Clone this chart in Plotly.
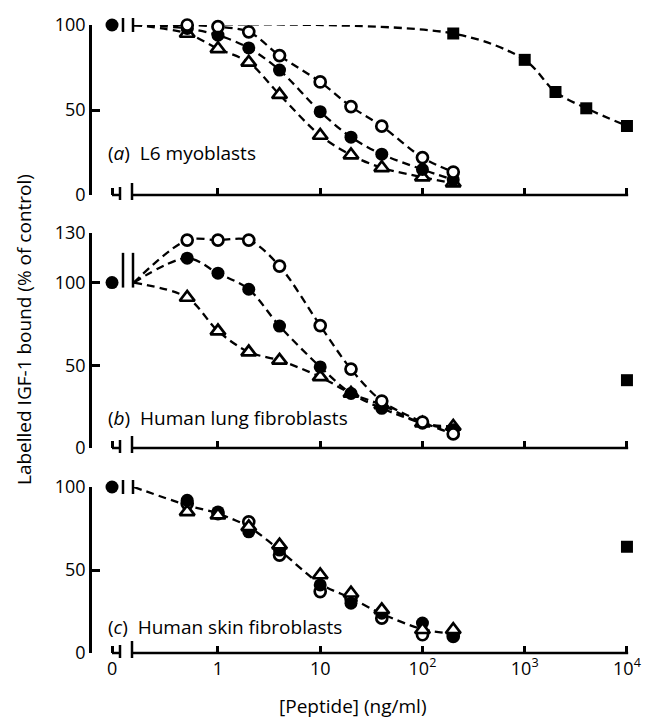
import numpy as np
import plotly.graph_objects as go

W, H = 645, 719

# ---------------- data ----------------
conc = [0.5, 1, 2, 4, 10, 20, 40, 100, 200]          # ng/ml
square_conc_a = [200, 1000, 2000, 4000, 10000]         # ng/ml
square_conc_bc = [10000]
control_value = 100                                     # peptide = 0

a_open = [100, 99, 96, 82, 66.5, 52, 40.5, 22, 13.5]
a_filled = [98, 94, 86.5, 73.5, 49, 34, 24, 15, 9]
a_tri = [95, 86, 78, 59, 35, 23.5, 16, 10.5, 7]
a_square = [95, 79.5, 60.6, 51, 40.6]

b_open = [125.7, 125.7, 125.7, 110, 74, 47.7, 28.4, 15.7, 8.5]
b_filled = [114.8, 105.7, 96, 73.7, 49, 33, 24, 15, 11]
b_tri = [91, 70.7, 58, 53, 43, 33, 26, 15, 13]
b_square = [41]

c_open = [90, 84, 79, 59, 37, 33, 21, 11, 10]
c_filled = [92, 85, 73, 62, 41, 30, 24, 18, 11]
c_tri = [85, 83, 76, 65, 47, 36, 26, 14, 14]
c_square = [64]

x_tick_labels = ["0", "1", "10", "10<sup>2</sup>", "10<sup>3</sup>", "10<sup>4</sup>"]
x_tick_conc = [1, 10, 100, 1000, 10000]
panel_labels = ["(<i>a</i>)\u00a0\u00a0L6 myoblasts",
                "(<i>b</i>)\u00a0\u00a0Human lung fibroblasts",
                "(<i>c</i>)\u00a0\u00a0Human skin fibroblasts"]
y_ticks = [[0, 50, 100], [0, 50, 100, 130], [0, 50, 100]]
y_max = [100, 130, 100]

# -------------- layout geometry (pixels) --------------
ZERO_X = 0.092      # where the "0" (control) sits on the log axis
START_X = 0.15      # curves start after the axis break
X_LEFT_PX, X_RIGHT_PX = 92, 629
LOG_LO, LOG_HI = -1.232, 4.02
panel_px = [(25, 195), (233, 448), (487, 653)]   # (top, bottom) pixel of y range

FONT = "Open Sans"
BLACK = "#000000"


def px_x(p):
    return p / W


def px_y(p):
    return 1 - p / H


def conc_px(v):
    return X_LEFT_PX + (np.log10(v) - LOG_LO) / (LOG_HI - LOG_LO) * (X_RIGHT_PX - X_LEFT_PX)


fig = go.Figure()

line_style = dict(color=BLACK, width=2.3, dash="8px,5px", shape="spline", smoothing=0.9)


def add_line(i, xs, ys):
    ax = "" if i == 0 else str(i + 1)
    fig.add_trace(go.Scatter(x=[START_X] + list(xs), y=[control_value] + list(ys),
                             mode="lines", line=line_style, xaxis="x" + ax, yaxis="y" + ax,
                             hoverinfo="skip", showlegend=False))


def add_markers(i, xs, ys, kind):
    ax = "" if i == 0 else str(i + 1)
    if kind == "open":
        m = dict(symbol="circle", size=11, color="white", line=dict(color=BLACK, width=2.7))
    elif kind == "filled":
        m = dict(symbol="circle", size=13, color=BLACK, line=dict(color=BLACK, width=0))
    elif kind == "tri":
        m = dict(symbol="triangle-up", size=13, color="white", line=dict(color=BLACK, width=2.7))
    else:
        m = dict(symbol="square", size=12, color=BLACK, line=dict(color=BLACK, width=0))
    fig.add_trace(go.Scatter(x=list(xs), y=list(ys), mode="markers", marker=m,
                             xaxis="x" + ax, yaxis="y" + ax, cliponaxis=False,
                             showlegend=False))


# panel a
add_line(0, conc, a_open)
add_line(0, conc, a_filled)
add_line(0, conc, a_tri)
add_line(0, square_conc_a, a_square)
add_markers(0, conc, a_tri, "tri")
add_markers(0, conc, a_filled, "filled")
add_markers(0, conc, a_open, "open")
add_markers(0, square_conc_a, a_square, "square")

# panel b
add_line(1, conc, b_open)
add_line(1, conc, b_filled)
add_line(1, conc, b_tri)
add_markers(1, conc, b_tri, "tri")
add_markers(1, conc, b_filled, "filled")
add_markers(1, conc, b_open, "open")
add_markers(1, square_conc_bc, b_square, "square")

# panel c : one curve through the mean of the three peptides
c_mean = [(o + f + t) / 3 for o, f, t in zip(c_open, c_filled, c_tri)]
add_line(2, conc, c_mean)
add_markers(2, conc, c_open, "open")
add_markers(2, conc, c_filled, "filled")
add_markers(2, conc, c_tri, "tri")
add_markers(2, square_conc_bc, c_square, "square")

# control points
for i in range(3):
    add_markers(i, [ZERO_X], [control_value], "filled")

layout = dict(
    template="none",
    width=W, height=H,
    margin=dict(l=0, r=0, t=0, b=0, pad=0),
    paper_bgcolor="white", plot_bgcolor="white",
    font=dict(family=FONT, color=BLACK, size=18),
    showlegend=False,
)

shapes = []
annotations = []
for i, (top, bot) in enumerate(panel_px):
    ax = "" if i == 0 else str(i + 1)
    xdom = [px_x(X_LEFT_PX), px_x(X_RIGHT_PX)]
    ydom = [px_y(bot), px_y(top)]
    layout["xaxis" + ax] = dict(
        type="log", range=[LOG_LO, LOG_HI], domain=xdom, anchor="y" + ax,
        automargin=False,
        showgrid=False, zeroline=False, showline=False,
        tickmode="array", tickvals=[ZERO_X] + x_tick_conc,
        ticktext=x_tick_labels, showticklabels=(i == 2),
        ticks="inside", ticklen=7, tickwidth=2.5, tickcolor=BLACK,
        tickfont=dict(size=18, family=FONT, color=BLACK), ticklabelstandoff=3,
    )
    layout["yaxis" + ax] = dict(
        range=[0, y_max[i]], domain=ydom, anchor="x" + ax,
        automargin=False,
        showgrid=False, zeroline=False, showline=True, linecolor=BLACK, linewidth=2.5,
        tickmode="array", tickvals=y_ticks[i],
        ticks="inside", ticklen=8, tickwidth=2.5, tickcolor=BLACK,
        tickfont=dict(size=18, family=FONT, color=BLACK),
    )
    ppu = (bot - top) / y_max[i]
    lw = dict(color=BLACK, width=2.5)
    # x axis with break
    shapes.append(dict(type="line", xref="paper", yref="paper",
                       x0=px_x(conc_px(ZERO_X)), x1=px_x(120), y0=px_y(bot), y1=px_y(bot), line=lw))
    shapes.append(dict(type="line", xref="paper", yref="paper",
                       x0=px_x(120), x1=px_x(120), y0=px_y(bot - 8), y1=px_y(bot + 5), line=lw))
    shapes.append(dict(type="line", xref="paper", yref="paper",
                       x0=px_x(132), x1=px_x(132), y0=px_y(bot - 12), y1=px_y(bot + 5), line=lw))
    shapes.append(dict(type="line", xref="paper", yref="paper",
                       x0=px_x(132), x1=px_x(conc_px(10000)) + 1.2 / W, y0=px_y(bot), y1=px_y(bot), line=lw))
    # break marks on the curves at the 100 % level
    y100 = bot - 100 * ppu
    if i == 1:
        b_top, b_bot = bot - 118 * ppu, bot - 97 * ppu
    else:
        b_top, b_bot = y100 - 7, y100 + 7
    for bx in (123, 133):
        shapes.append(dict(type="line", xref="paper", yref="paper",
                           x0=px_x(bx), x1=px_x(bx), y0=px_y(b_top), y1=px_y(b_bot), line=lw))
    annotations.append(dict(text=panel_labels[i], xref="paper", yref="paper",
                            x=px_x(106), y=px_y([153, 418, 627][i]), xanchor="left", yanchor="middle",
                            showarrow=False, font=dict(size=19, family=FONT, color=BLACK)))

annotations.append(dict(text="Labelled IGF-1 bound (% of control)", xref="paper", yref="paper",
                        x=px_x(24), y=px_y(330), textangle=-90, xanchor="center", yanchor="middle",
                        showarrow=False, font=dict(size=19, family=FONT, color=BLACK)))
annotations.append(dict(text="[Peptide] (ng/ml)", xref="paper", yref="paper",
                        x=px_x(353), y=px_y(706), xanchor="center", yanchor="middle",
                        showarrow=False, font=dict(size=19, family=FONT, color=BLACK)))

layout["shapes"] = shapes
layout["annotations"] = annotations
fig.update_layout(**layout)

fig.write_html("out.html", config={"displayModeBar": False},
               post_script="document.body.style.margin='0';document.body.style.overflow='hidden';")
